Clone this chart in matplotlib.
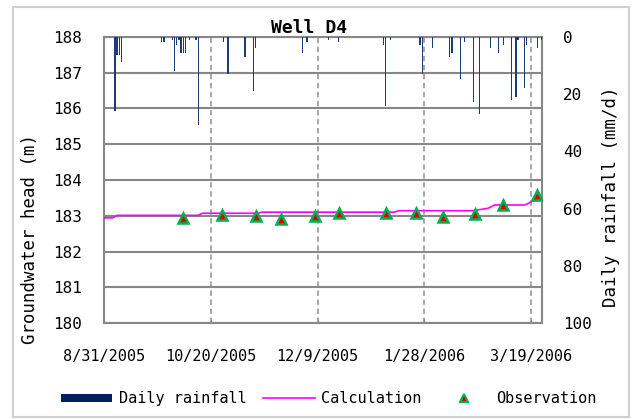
import pandas as pd
import matplotlib
matplotlib.use('Agg')
import matplotlib.pyplot as plt
import matplotlib.dates as mdates
from matplotlib.patches import Rectangle
from matplotlib.lines import Line2D

# Daily rainfall (mm/d)
rain_dates = ['2005-09-05', '2005-09-06', '2005-09-07', '2005-09-08', '2005-09-27',
              '2005-09-28', '2005-10-02', '2005-10-03', '2005-10-04', '2005-10-05',
              '2005-10-06', '2005-10-07', '2005-10-08', '2005-10-10', '2005-10-13',
              '2005-10-14', '2005-10-26', '2005-10-28', '2005-11-05', '2005-11-09',
              '2005-11-10', '2005-12-02', '2005-12-04', '2005-12-14', '2005-12-19',
              '2006-01-09', '2006-01-10', '2006-01-12', '2006-01-26', '2006-01-27',
              '2006-02-01', '2006-02-09', '2006-02-10', '2006-02-14', '2006-02-16',
              '2006-02-20', '2006-02-23', '2006-02-28', '2006-03-04', '2006-03-06',
              '2006-03-10', '2006-03-12', '2006-03-13', '2006-03-16', '2006-03-17',
              '2006-03-22', '2006-03-24']
rain_mm = [25.9, 6.3, 6.3, 8.8, 1.9,
           1.9, 1.0, 11.9, 2.7, 1.0,
           5.7, 5.7, 5.7, 1.0, 1.0,
           30.8, 1.9, 13.0, 6.9, 18.9,
           4.0, 5.7, 1.9, 1.0, 1.9,
           2.7, 24.0, 1.0, 2.7, 13.0,
           4.0, 6.9, 5.7, 14.8, 1.9,
           22.8, 27.0, 4.0, 5.7, 2.7,
           21.9, 20.9, 1.0, 17.9, 2.7,
           4.0, 1.0]

# Calculated groundwater head (m)
calc_dates = ['2005-08-31', '2005-09-04', '2005-09-06', '2005-10-14', '2005-10-16',
              '2005-11-11', '2005-11-13', '2006-01-14', '2006-01-16', '2006-02-20',
              '2006-02-22', '2006-02-27', '2006-03-02', '2006-03-16', '2006-03-18',
              '2006-03-20', '2006-03-27']
calc_head = [182.94, 182.94, 183.01, 183.01, 183.07,
             183.07, 183.10, 183.10, 183.14, 183.14,
             183.16, 183.21, 183.30, 183.30, 183.35,
             183.42, 183.44]

# Observed groundwater head (m)
obs_dates = ['2005-10-07', '2005-10-25', '2005-11-10', '2005-11-22', '2005-12-08',
             '2005-12-19', '2006-01-10', '2006-01-24', '2006-02-06', '2006-02-21',
             '2006-03-06', '2006-03-22']
obs_head = [182.93, 183.02, 182.98, 182.91, 182.99,
            183.08, 183.09, 183.09, 182.97, 183.04,
            183.29, 183.57]

tick_dates = ['2005-08-31', '2005-10-20', '2005-12-09', '2006-01-28', '2006-03-19']

FONT = 'DejaVu Sans Mono'
plt.rcParams['font.family'] = FONT
plt.rcParams['font.size'] = 11

fig = plt.figure(figsize=(6.32, 4.19), dpi=100)
fig.patch.set_facecolor('white')
fig.patches.append(Rectangle((0.02, 0.005), 0.976, 0.978, transform=fig.transFigure,
                             fill=False, edgecolor='#d0d0d0', linewidth=1.5))

ax = fig.add_axes([0.165, 0.229, 0.693, 0.683])
grey = '#878787'

t_calc = pd.to_datetime(calc_dates)
t_obs = pd.to_datetime(obs_dates)
t_rain = pd.to_datetime(rain_dates)
t_ticks = pd.to_datetime(tick_dates)

ax.set_xlim(pd.Timestamp('2005-08-31'), pd.Timestamp('2006-03-24 08:00'))
ax.set_ylim(180, 188)
ax.set_yticks(range(180, 189))
ax.yaxis.grid(True, color=grey, linewidth=1.5)
for t in t_ticks[1:]:
    ax.axvline(t, color='#a0a0a0', linestyle=(0, (3, 2)), linewidth=1.3, zorder=1)

ax.plot(t_calc, calc_head, color='#ff00ff', linewidth=1.2, zorder=3)
ax.plot(t_obs, obs_head, linestyle='none', marker='^', markersize=7,
        markerfacecolor='#e00000', markeredgecolor='#00b050', markeredgewidth=1.8, zorder=4)

ax.set_xticks(t_ticks)
ax.xaxis.set_major_formatter(plt.FuncFormatter(
    lambda v, p: '{d.month}/{d.day}/{d.year}'.format(d=mdates.num2date(v))))
ax.tick_params(axis='x', direction='in', length=3, color=grey, pad=19, labelsize=11)
ax.tick_params(axis='y', length=0, pad=16, labelsize=11.5)
for s in ax.spines.values():
    s.set_color(grey)
    s.set_linewidth(1.5)
ax.set_ylabel('Groundwater head (m)', fontsize=12.5)
ax.yaxis.set_label_coords(-0.148, 0.294)
ax.set_title('Well D4', fontsize=13, fontweight='bold', x=0.467, pad=3)

ax2 = ax.twinx()
ax2.bar(t_rain, rain_mm, width=0.55, color='#1f3a7a', linewidth=0, zorder=2)
ax2.set_ylim(100, 0)
ax2.set_yticks(range(0, 101, 20))
ax2.tick_params(axis='y', length=0, pad=15, labelsize=11.5)
for s in ax2.spines.values():
    s.set_visible(False)
ax2.set_ylabel('Daily rainfall (mm/d)', fontsize=12.5)
ax2.yaxis.set_label_coords(1.137, 0.44)

handles = [Rectangle((0, 0), 1, 1, facecolor='#002060', edgecolor='none'),
           Line2D([], [], color='#ff00ff', linewidth=1.2),
           Line2D([], [], linestyle='none', marker='^', markersize=6,
                  markerfacecolor='#e00000', markeredgecolor='#00b050', markeredgewidth=1.5)]
fig.legend(handles, ['Daily rainfall', 'Calculation', 'Observation'],
           loc='center', bbox_to_anchor=(0.52, 0.048), ncol=3, frameon=False,
           handlelength=3.4, handleheight=0.5, handletextpad=0.4, columnspacing=1.1,
           fontsize=11)

fig.savefig('out.png', dpi=100)
